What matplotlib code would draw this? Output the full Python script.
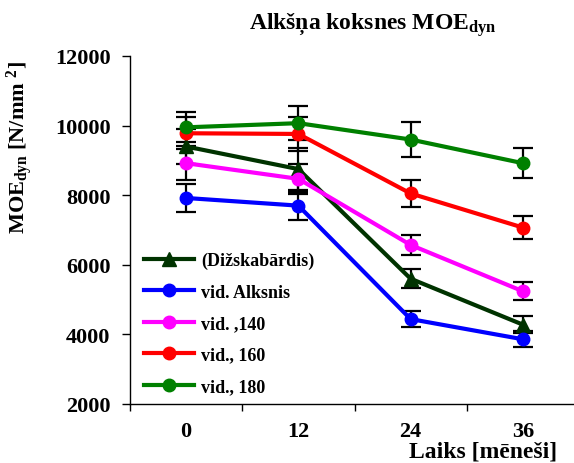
import matplotlib
matplotlib.use("Agg")
import matplotlib.pyplot as plt
import numpy as np

plt.rcParams['font.family'] = ['Liberation Serif', 'DejaVu Serif']
plt.rcParams['font.weight'] = 'bold'
plt.rcParams['mathtext.fontset'] = 'custom'
plt.rcParams['mathtext.rm'] = 'Liberation Serif:bold'
plt.rcParams['mathtext.bf'] = 'Liberation Serif:bold'
plt.rcParams['mathtext.it'] = 'Liberation Serif:bold'

categories = ['0', '12', '24', '36']
labels = ['(Dižskabārdis)', 'vid. Alksnis', 'vid. ,140', 'vid., 160', 'vid., 180']
colors = ['#003300', '#0000FF', '#FF00FF', '#FF0000', '#008000']
markers = ['^', 'o', 'o', 'o', 'o']

dizskabardis = [9400, 8750, 5600, 4280]
alksnis = [7920, 7700, 4440, 3860]
vid140 = [8920, 8470, 6570, 5240]
vid160 = [9780, 9760, 8050, 7070]
vid180 = [9950, 10070, 9600, 8920]

err_dizskabardis = [500, 600, 280, 250]
err_alksnis = [400, 400, 230, 230]
err_vid140 = [480, 430, 300, 265]
err_vid160 = [460, 500, 400, 330]
err_vid180 = [430, 480, 490, 430]

series = [dizskabardis, alksnis, vid140, vid160, vid180]
errors = [err_dizskabardis, err_alksnis, err_vid140, err_vid160, err_vid180]

fig = plt.figure(figsize=(5.74, 4.64), dpi=100)
ax = fig.add_axes([130/574, 59/464, 449/574, 348/464])

x = np.arange(len(categories))
for vals, errs in zip(series, errors):
    ax.errorbar(x, vals, yerr=errs, fmt='none', ecolor='black', elinewidth=1.6,
                capsize=7.5, capthick=1.6, zorder=2)
for i, (vals, c, m, lab) in enumerate(zip(series, colors, markers, labels)):
    ax.plot(x, vals, color=c, marker=m, markersize=9 if m == 'o' else 10,
            linewidth=3, label=lab, zorder=3 + i)

ax.set_xlim(-0.5, 3.5)
ax.set_ylim(2000, 12000)
ax.set_yticks(np.arange(2000, 12001, 2000))
ax.set_xticks(np.arange(-0.5, 3.6, 1.0))
ax.set_xticklabels([])
ax.set_xticks(x, minor=True)
ax.set_xticklabels(categories, minor=True)
ax.tick_params(axis='x', which='minor', length=0, pad=12, labelsize=16)
ax.tick_params(axis='x', which='major', direction='out', length=5, width=1)
ax.tick_params(axis='y', direction='out', length=6, width=1, labelsize=16, pad=8)

for s in ['top', 'right']:
    ax.spines[s].set_visible(False)
for s in ['left', 'bottom']:
    ax.spines[s].set_linewidth(1)

ax.set_ylabel(r'MOE$_{\rm dyn}$ [N/mm $^{2}$]', fontsize=16, fontweight='bold')
ax.yaxis.set_label_coords(-0.212, 0.74)
ax.set_xlabel('Laiks [mēneši]', fontsize=17, fontweight='bold')
ax.xaxis.set_label_coords(0.786, -0.105)

fig.text(0.65, 0.945, r'Alkšņa koksnes MOE$_{\rm dyn}$', ha='center', va='center',
         fontsize=17, fontweight='bold')

leg = ax.legend(loc='lower left', bbox_to_anchor=(0.01, 0.0), frameon=False,
                fontsize=13, handlelength=2.8, labelspacing=0.8, handletextpad=0.4,
                borderaxespad=0.1)

fig.savefig('out.png', dpi=100)
